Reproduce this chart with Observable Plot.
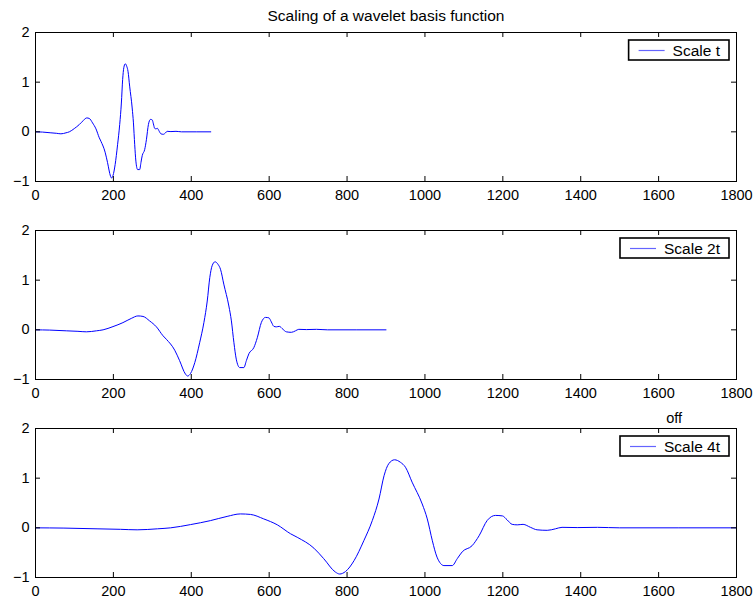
<!DOCTYPE html>
<html>
<head>
<meta charset="utf-8">
<script src="https://cdn.jsdelivr.net/npm/d3@7"></script>
<script src="https://cdn.jsdelivr.net/npm/@observablehq/plot@0.6"></script>
<style>
  body { margin: 0; background: #fff; }
  #chart { width: 754px; height: 601px; overflow: hidden; }
  #chart svg { display: block; }
</style>
</head>
<body>
<div id="chart"></div>
<script>
// Sample positions of the basis function, read at scale 4t (0 … 1800)
const sampleX = [0, 73, 158, 218, 261, 313, 347, 398, 449, 492, 526, 552, 586, 621, 655, 672,
  715, 740, 770, 781, 796, 818, 843, 865, 882, 895, 907, 922, 937, 950, 967, 993, 1006, 1019,
  1031, 1049, 1070, 1083, 1096, 1121, 1139, 1160, 1181, 1199, 1211, 1224, 1237, 1252, 1271,
  1288, 1314, 1335, 1352, 1391, 1443, 1500, 1800];
// Function values
const waveY = [0, -0.005, -0.02, -0.03, -0.04, -0.02, 0, 0.065, 0.145, 0.23, 0.28, 0.27, 0.18, 0.06, -0.12, -0.19,
  -0.41, -0.62, -0.89, -0.93, -0.88, -0.66, -0.26, 0.15, 0.58, 1.05, 1.29, 1.37, 1.32, 1.22, 0.92, 0.48, 0.18, -0.26,
  -0.59, -0.76, -0.76, -0.62, -0.48, -0.36, -0.16, 0.15, 0.25, 0.24, 0.16, 0.07, 0.06, 0.07, 0.01,
  -0.04, -0.05, -0.02, 0.01, 0.005, 0.01, 0, 0];
const scales = [1, 2, 4];                 // dilation: t, 2t, 4t
const seriesLabels = ["Scale t", "Scale 2t", "Scale 4t"];
const xTicks = [0, 200, 400, 600, 800, 1000, 1200, 1400, 1600, 1800];
const yTicks = [-1, 0, 1, 2];
const titleText = "Scaling of a wavelet basis function";
const notes = [{panel: 2, x: 1640, y: 2.2, text: "off"}];

const FONT = "'Liberation Sans', Arial, Helvetica, sans-serif";
const TICK_FS = 14.5;
const LEG_FS = 15.5;
const BLUE = "#0000ff";
const fmt = d => (d < 0 ? "\u2212" + Math.abs(d) : String(d));

const measureCtx = document.createElement("canvas").getContext("2d");
function textWidth(s, fs) {
  measureCtx.font = `${fs}px 'Liberation Sans'`;
  return measureCtx.measureText(s).width;
}

function legendMark(label) {
  return (index, sc, values, dims) => {
    const right = dims.width - dims.marginRight - 7;
    const top = dims.marginTop + 8;
    const tw = textWidth(label, LEG_FS);
    const w = 10 + 26 + 8 + tw + 9;
    const x0 = right - w;
    const g = d3.create("svg:g");
    g.append("rect").attr("x", x0).attr("y", top).attr("width", w).attr("height", 20)
      .attr("fill", "white").attr("stroke", "black").attr("stroke-width", 1.6);
    g.append("line").attr("x1", x0 + 10).attr("x2", x0 + 36)
      .attr("y1", top + 10.5).attr("y2", top + 10.5)
      .attr("stroke", "#6464ff").attr("stroke-width", 1.2);
    g.append("text").attr("x", x0 + 44).attr("y", top + 10).attr("dy", "0.36em")
      .attr("text-anchor", "start")
      .attr("font-size", LEG_FS).attr("font-family", FONT).attr("fill", "black")
      .text(label);
    return g.node();
  };
}

const layouts = [
  {height: 202, marginTop: 32, marginBottom: 21},
  {height: 202, marginTop: 28, marginBottom: 25},
  {height: 197, marginTop: 24, marginBottom: 24}
];

const chart = document.getElementById("chart");

scales.forEach((s, k) => {
  const rows = sampleX.map((x, i) => ({x: x * s / 4, y: waveY[i]}));
  const L = layouts[k];
  const innerH = L.height - L.marginTop - L.marginBottom;
  const innerW = 754 - 35 - 18;
  const marks = [
    Plot.line(rows, {x: "x", y: "y", stroke: BLUE, strokeWidth: 1, curve: "monotone-x"}),
    Plot.frame({stroke: "black", strokeWidth: 1}),
    Plot.tickX(xTicks, {x: d => d, insetTop: innerH - 5, stroke: "black"}),
    Plot.tickX(xTicks, {x: d => d, insetBottom: innerH - 5, stroke: "black"}),
    Plot.tickY(yTicks, {y: d => d, insetLeft: innerW - 5, stroke: "black"}),
    Plot.tickY(yTicks, {y: d => d, insetRight: innerW - 5, stroke: "black"}),
    Plot.axisX({ticks: xTicks, tickFormat: fmt, tickSize: 0, tickPadding: 8, label: null, fontSize: TICK_FS}),
    Plot.axisY({ticks: yTicks, tickFormat: fmt, tickSize: 0, tickPadding: 6, label: null, fontSize: TICK_FS}),
    legendMark(seriesLabels[k])
  ];
  if (k === 0) {
    marks.push(Plot.text([titleText], {frameAnchor: "top", lineAnchor: "bottom", dy: -12,
      fontSize: 15.5, fill: "black"}));
  }
  const panelNotes = notes.filter(n => n.panel === k);
  if (panelNotes.length) {
    marks.push(Plot.text(panelNotes, {x: "x", y: "y", text: "text", fontSize: TICK_FS, fill: "black"}));
  }
  const svg = Plot.plot({
    width: 754,
    height: L.height,
    marginLeft: 35,
    marginRight: 18,
    marginTop: L.marginTop,
    marginBottom: L.marginBottom,
    x: {domain: [0, 1800], label: null},
    y: {domain: [-1, 2], label: null},
    style: {fontFamily: FONT, fontSize: TICK_FS + "px", color: "black", background: "white", overflow: "visible"},
    marks
  });
  chart.appendChild(svg);
});
</script>
</body>
</html>
